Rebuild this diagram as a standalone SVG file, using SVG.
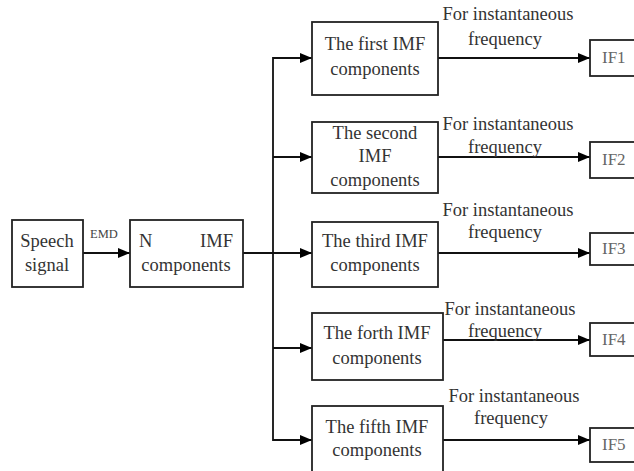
<svg xmlns="http://www.w3.org/2000/svg" width="634" height="471" viewBox="0 0 634 471">
<defs>
<marker id="ah" markerWidth="12" markerHeight="10" refX="12" refY="5" orient="auto" markerUnits="userSpaceOnUse">
<path d="M0,0 L12,5 L0,10 Z" fill="#000"/>
</marker>
<style>
.box{fill:#fff;stroke:#222;stroke-width:1.8}
text{font-family:'Liberation Serif','DejaVu Serif',serif}
.t{font-size:18.5px;fill:#333;text-anchor:middle}
.lab{font-size:18.5px;fill:#333;text-anchor:middle}
.if{font-size:17px;fill:#666}
.emd{font-size:12.5px;fill:#444;text-anchor:middle}
.c{fill:none;stroke:#111;stroke-width:1.8}
</style>
</defs>
<rect width="634" height="471" fill="#fff"/>
<g id="connectors">
<line class="c" x1="83" y1="253" x2="130" y2="253" marker-end="url(#ah)"/>
<line class="c" x1="243" y1="253" x2="312" y2="253" marker-end="url(#ah)"/>
<polyline class="c" points="312,58 273,58 273,440 312,440"/>
<line class="c" x1="273" y1="58" x2="312" y2="58" marker-end="url(#ah)"/>
<line class="c" x1="273" y1="157" x2="312" y2="157" marker-end="url(#ah)"/>
<line class="c" x1="273" y1="348" x2="312" y2="348" marker-end="url(#ah)"/>
<line class="c" x1="273" y1="440" x2="312" y2="440" marker-end="url(#ah)"/>
<line class="c" x1="438" y1="58" x2="590" y2="58" marker-end="url(#ah)"/>
<line class="c" x1="438" y1="157" x2="590" y2="157" marker-end="url(#ah)"/>
<line class="c" x1="438" y1="253" x2="590" y2="253" marker-end="url(#ah)"/>
<line class="c" x1="443" y1="340" x2="590" y2="340" marker-end="url(#ah)"/>
<line class="c" x1="443" y1="440" x2="590" y2="440" marker-end="url(#ah)"/>
<text class="emd" x="104" y="238">EMD</text>
<text class="lab" x="508" y="20">For instantaneous</text>
<text class="lab" x="505" y="45">frequency</text>
<text class="lab" x="508" y="130">For instantaneous</text>
<text class="lab" x="505" y="153">frequency</text>
<text class="lab" x="508" y="216">For instantaneous</text>
<text class="lab" x="505" y="238">frequency</text>
<text class="lab" x="510" y="315">For instantaneous</text>
<text class="lab" x="505" y="337">frequency</text>
<text class="lab" x="514" y="402">For instantaneous</text>
<text class="lab" x="511" y="424">frequency</text>
</g>
<g id="speech">
<rect class="box" x="12" y="220" width="71" height="67"/>
<text class="t" x="47" y="247">Speech</text>
<text class="t" x="47" y="271">signal</text>
</g>
<g id="nimf">
<rect class="box" x="130" y="220" width="113" height="67"/>
<text class="t" x="139" y="247" style="text-anchor:start">N</text>
<text class="t" x="233" y="247" style="text-anchor:end">IMF</text>
<text class="t" x="186" y="271">components</text>
</g>
<g id="imf1">
<rect class="box" x="312" y="22" width="126" height="73"/>
<text class="t" x="375" y="50">The first IMF</text>
<text class="t" x="375" y="75">components</text>
</g>
<g id="imf2">
<rect class="box" x="312" y="122" width="126" height="71"/>
<text class="t" x="375" y="139">The second</text>
<text class="t" x="375" y="162">IMF</text>
<text class="t" x="375" y="186">components</text>
</g>
<g id="imf3">
<rect class="box" x="312" y="222" width="126" height="65"/>
<text class="t" x="375" y="247">The third IMF</text>
<text class="t" x="375" y="271">components</text>
</g>
<g id="imf4">
<rect class="box" x="312" y="313" width="131" height="67"/>
<text class="t" x="377" y="339">The forth IMF</text>
<text class="t" x="377" y="364">components</text>
</g>
<g id="imf5">
<rect class="box" x="312" y="406" width="131" height="70"/>
<text class="t" x="377" y="433">The fifth IMF</text>
<text class="t" x="377" y="456">components</text>
</g>
<g id="if1"><rect class="box" x="590" y="40" width="50" height="36"/><text class="if" x="602" y="63">IF1</text></g>
<g id="if2"><rect class="box" x="590" y="142" width="50" height="36"/><text class="if" x="602" y="165">IF2</text></g>
<g id="if3"><rect class="box" x="590" y="233" width="50" height="32"/><text class="if" x="602" y="254">IF3</text></g>
<g id="if4"><rect class="box" x="590" y="323" width="50" height="33"/><text class="if" x="602" y="345">IF4</text></g>
<g id="if5"><rect class="box" x="590" y="428" width="50" height="34"/><text class="if" x="602" y="450">IF5</text></g>
</svg>
